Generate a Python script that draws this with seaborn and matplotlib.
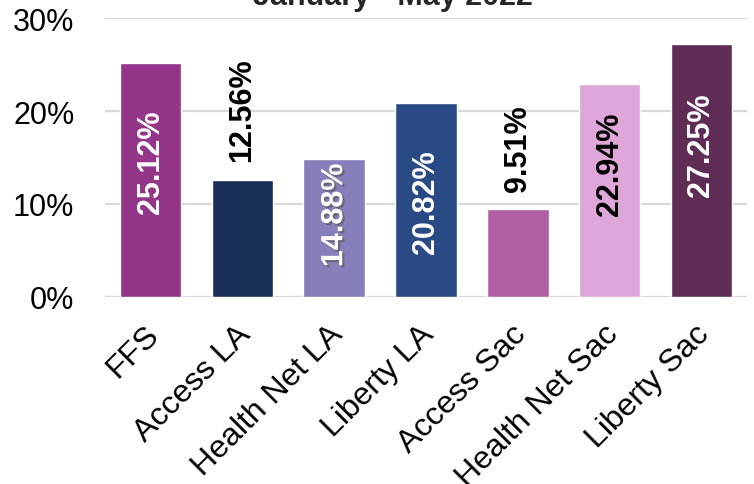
import pandas as pd
import matplotlib
matplotlib.use("Agg")
import matplotlib.pyplot as plt
import matplotlib.patheffects as pe
import matplotlib.transforms as mtransforms
import seaborn as sns

# Data
plans = ['FFS', 'Access LA', 'Health Net LA', 'Liberty LA', 'Access Sac', 'Health Net Sac', 'Liberty Sac']
rates = [25.12, 12.56, 14.88, 20.82, 9.51, 22.94, 27.25]
colors = ['#933588', '#1a2f58', '#8580b9', '#294a85', '#b25ea5', '#dea6d9', '#5e2c54']
label_colors = ['white', 'black', 'white', 'white', 'black', 'black', 'white']
label_mid = [14.6, 20.2, 8.8, 10.3, 16.1, 14.4, 16.4]  # vertical centre of each value label (%)
yticks = [0, 10, 20, 30]

df = pd.DataFrame({'Plan': plans, 'Rate': [r / 100 for r in rates]})

sns.set_style('white')
plt.rcParams['font.family'] = ['Liberation Sans', 'DejaVu Sans']

fig = plt.figure(figsize=(7.54, 4.85), dpi=100)
ax = fig.add_axes([0.139, 0.3856, 0.852, 0.5752])

sns.barplot(data=df, x='Plan', y='Rate', hue='Plan', palette=colors, legend=False,
            width=0.67, saturation=1, ax=ax, zorder=3)

ax.set_ylim(0, 0.30)
ax.set_xlim(-0.5, len(plans) - 0.5)
ax.set_yticks([t / 100 for t in yticks])
ax.set_yticklabels([f'{t}%' for t in yticks], fontsize=22, color='black')
ax.yaxis.grid(True, color='#d9d9d9', linewidth=1.6, zorder=0)
ax.xaxis.grid(False)
for s in ax.spines.values():
    s.set_visible(False)
ax.tick_params(axis='both', length=0)
ax.tick_params(axis='y', pad=22)
ax.set_xlabel('')
ax.set_ylabel('')

# rotated category labels
offset = mtransforms.ScaledTranslation(-7 / 100, -17 / 100, fig.dpi_scale_trans)
ax.set_xticks(range(len(plans)))
ax.set_xticklabels(plans, rotation=45, ha='right', va='top', rotation_mode='anchor',
                   fontsize=23, color='black')
for lbl in ax.get_xticklabels():
    lbl.set_transform(lbl.get_transform() + offset)

# value labels
for i, (r, c, m) in enumerate(zip(rates, label_colors, label_mid)):
    t = ax.text(i, m / 100, f'{r:.2f}%', rotation=90, ha='center', va='center',
                fontsize=22, fontweight='bold', color=c, zorder=5)
    if plans[i] == 'Health Net LA':
        t.set_path_effects([pe.withSimplePatchShadow(offset=(1.5, -1.5), shadow_rgbFace='#555555', alpha=0.6)])

# title, clipped at the top like the reference
fig.text(393 / 754, 1 - 5 / 485, 'January - May 2022', ha='center', va='baseline',
         fontsize=22, fontweight='bold')

fig.savefig('out.png', dpi=100)
